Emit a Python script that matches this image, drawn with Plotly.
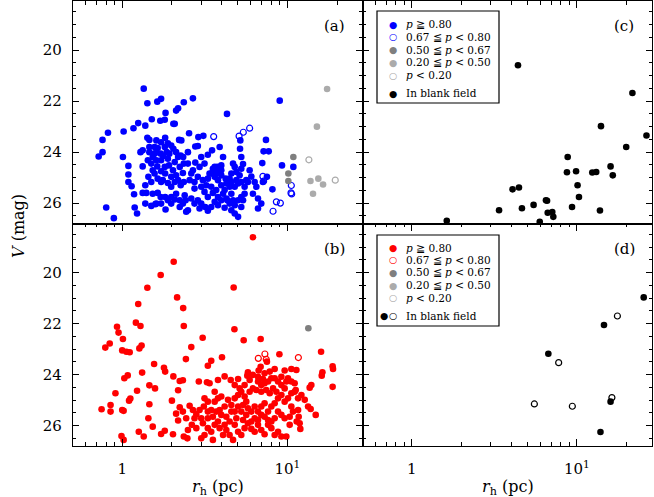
import plotly.graph_objects as go
from plotly.subplots import make_subplots

# ---------------- data ----------------
# panel (a): V band, probability classes
a_hi_r = [1.35,1.42,1.63,1.72,2.36,2.68,2.12,2.18,1.83,4.31,8.99,0.82,0.76,0.76,0.72,0.80,0.89,1.02,1.17,1.25,1.38,1.51,1.70,1.81,2.04,2.08,2.54,2.89,3.10,1.42,1.46,1.61,1.82,1.89,2.21,2.28,2.77,2.87,1.01,1.09,1.09,1.09,1.14,1.18,1.19,1.23,1.38,1.33,1.40,1.38,1.50,1.59,1.64,1.83,1.29,1.33,1.46,1.57,1.61,1.64,1.71,1.77,1.86,1.93,2.04,2.18,2.26,2.34,2.50,1.33,1.50,1.53,1.63,1.72,1.81,1.92,2.03,2.12,2.23,2.33,2.50,2.77,3.01,3.30,3.50,1.76,1.89,1.98,2.12,2.26,2.36,2.56,2.74,2.87,3.08,3.23,3.38,3.63,3.80,3.98,3.89,4.08,1.71,1.82,1.98,2.23,2.42,2.62,2.87,3.01,3.18,2.94,2.50,2.23,2.44,3.30,3.54,3.71,3.80,4.08,3.80,4.17,4.33,4.47,4.69,4.80,5.03,5.26,5.39,4.58,4.80,5.03,5.26,5.51,5.77,6.05,6.34,6.49,6.19,6.64,6.95,6.64,7.11,7.52,7.05,7.18,7.71,7.42,8.12,9.28,10.87,3.98,4.23,4.47,4.58,4.80,4.69,4.91,5.26,5.39,5.26,5.17,5.19,3.54,3.46,3.63,3.80,3.98,4.27,4.47,4.17,3.15,3.01,3.46,2.74,2.62,2.68,3.30,2.94,3.15,3.71,3.77,3.98,4.58,4.91,5.14,5.64,5.91,5.51,5.26,5.03,4.58,4.80,4.27,3.98,3.63,3.46,3.30,2.74,2.39,2.33,2.08,1.98,1.89,1.72,1.61,1.53,1.44,1.50,1.57,1.64,1.72,1.82,1.98,2.08,2.18,1.43,1.53,1.61,1.72,1.89,2.08,2.12,2.36,1.98,1.81,1.72,1.46,1.57]
a_hi_V = [21.51,22.08,22.02,21.91,22.04,21.89,22.37,22.28,22.46,22.50,21.98,23.24,23.52,24.00,24.17,26.17,26.59,23.19,23.06,22.86,22.96,22.71,22.77,22.73,22.89,22.89,23.26,23.41,23.36,23.44,23.52,23.54,23.44,23.65,23.52,23.54,23.78,23.76,24.19,24.54,24.88,25.17,25.34,25.65,26.17,26.41,25.30,25.60,25.60,26.02,26.11,26.04,25.60,26.25,24.00,23.93,24.00,23.80,24.00,23.84,24.06,24.15,24.00,24.06,23.87,24.19,24.13,24.19,24.00,24.56,24.45,24.71,24.56,24.75,24.58,24.52,24.71,24.91,24.58,24.82,24.45,24.41,24.19,24.10,23.93,25.10,25.21,25.36,25.63,25.30,25.17,25.10,25.43,24.97,25.10,25.30,24.84,24.58,24.71,24.52,23.80,24.19,25.76,25.76,25.76,25.89,25.89,25.82,25.89,26.02,26.15,26.21,26.28,26.15,26.34,25.76,25.60,25.49,25.76,25.63,26.08,26.18,25.89,26.02,25.89,26.08,26.54,26.15,25.89,25.63,25.36,25.23,25.17,25.36,25.17,24.96,25.17,25.36,25.63,25.82,26.02,26.21,25.17,24.97,24.43,23.97,23.97,23.52,25.46,24.52,24.58,24.91,25.04,25.04,24.84,24.58,24.45,24.78,24.65,24.47,24.19,23.87,23.54,24.65,24.84,24.97,25.10,25.30,25.23,25.36,25.49,25.56,25.36,25.36,25.17,24.84,24.71,25.04,24.58,24.45,24.84,24.58,24.71,25.17,25.10,24.91,25.10,24.71,25.63,25.76,25.89,26.28,26.41,25.82,25.89,25.95,26.15,26.30,26.02,25.69,26.02,25.86,26.02,25.89,26.02,26.02,25.63,24.97,25.17,24.84,25.04,25.17,24.84,24.97,25.17,25.10,24.32,24.19,24.32,24.32,24.26,24.39,24.00,24.45,23.74,23.80,23.61,23.80,24.06]
a_mid_r = [3.58,5.10,5.41,5.91,7.11,7.18,10.57,10.52,10.62,8.58,9.07,8.19]
a_mid_V = [23.39,23.37,23.22,23.06,24.95,25.14,25.31,25.60,25.64,25.95,26.00,26.32]
a_p50_r = [10.87,10.14,10.14]
a_p50_V = [24.19,24.84,25.13]
a_p20_r = [17.4,15.1,13.8,15.4,16.45,14.3]
a_p20_V = [21.52,23.0,25.13,25.04,25.27,25.63]
a_low_r = [13.5,19.5]
a_low_V = [24.30,25.10]

# panel (b)
b_hi_r = [6.19,2.05,1.71,1.42,4.73,2.15,1.25,2.34,1.21,1.29,
          2.36,0.93,0.95,1.01,4.78,5.44,6.89,0.84,0.79,1.31,
          1.27,2.62,3.07,1.00,1.06,1.11,8.95,16.0,4.02,3.46,
          3.30,2.43,1.56,1.79,1.82,2.04,2.23,2.33,1.32,1.08,
          1.03,1.46,1.58,1.23,0.91,2.18,2.91,3.26,4.17,4.54,
          5.03,5.72,5.77,6.70,6.89,7.52,8.38,9.63,10.57,11.34,
          16.3,16.15,18.8,18.9,18.8,13.65,13.97,1.12,1.10,0.85,
          0.75,0.85,1.00,1.02,1.46,2.00,2.23,2.56,1.44,1.53,
          1.72,1.81,1.26,1.35,2.03,0.99,1.02,2.12,2.18,2.36,
          2.48,2.50,2.64,2.81,2.81,3.01,3.12,3.30,3.46,3.63,
          3.80,3.98,4.17,4.37,4.58,4.80,5.03,5.26,5.51,5.64,
          5.91,6.19,6.49,6.64,6.95,7.28,7.64,8.00,8.38,8.78,
          9.20,9.63,10.09,10.57,11.07,11.24,11.61,12.16,12.74,13.35,
          13.84,14.85,11.61,11.71,11.87,11.98,11.39,10.33,9.86,9.20,
          8.78,8.38,8.00,7.64,7.28,6.95,6.64,6.34,6.05,5.77,
          5.51,5.26,5.03,4.80,4.69,4.47,4.27,4.08,3.89,3.63,
          3.46,3.30,3.15,3.01,3.54,3.30,3.54,3.80,3.98,4.27,
          4.58,4.91,5.26,5.39,5.64,6.05,6.34,6.64,6.95,7.28,
          7.64,8.00,8.38,8.78,9.20,9.63,10.09,10.57,10.82,10.33,
          9.63,9.20,8.78,8.38,8.00,7.64,7.28,6.95,6.64,6.34,
          6.05,5.77,5.39,5.03,4.80,4.47,4.17,3.89,3.71,3.30,
          3.08,2.94,2.74,4.80,5.14,5.51,5.91,6.19,6.64,6.95,
          7.45,7.82,8.19,8.58,9.20,9.86,10.57,11.07,7.82,7.28,
          7.11,3.38,3.80,3.63,2.68,2.44,3.15,2.33]
b_hi_V = [18.61,19.57,20.09,20.59,20.58,20.97,21.23,21.39,21.96,22.09,
          22.09,22.12,22.35,22.60,22.22,22.65,22.60,22.78,22.94,22.86,
          22.97,22.92,22.55,23.05,23.10,23.12,23.20,23.10,23.32,23.46,
          23.65,23.39,23.58,23.73,23.88,24.07,24.25,24.22,23.92,24.03,
          24.14,24.42,24.54,24.63,24.73,24.61,24.27,24.30,24.07,24.21,
          24.17,24.04,23.91,23.84,23.69,23.49,23.78,23.84,23.78,23.82,
          23.91,24.04,23.67,23.78,24.48,24.51,24.41,24.94,25.02,25.19,
          25.36,25.45,25.39,25.42,25.16,25.02,25.28,25.22,25.71,26.04,
          26.33,26.20,26.24,26.43,26.34,26.41,26.56,25.53,25.80,26.43,
          26.50,26.17,25.97,26.10,25.56,25.71,25.25,25.06,25.39,25.06,
          24.93,24.86,25.25,24.99,25.19,24.93,24.80,24.67,24.86,25.06,
          24.67,24.54,24.60,24.27,24.41,24.34,24.27,24.14,24.14,24.27,
          24.41,24.54,24.14,24.27,24.67,24.60,24.93,24.80,24.99,25.25,
          25.35,25.58,25.39,25.65,25.91,26.13,25.84,25.97,26.43,26.43,
          26.24,26.37,26.10,25.97,26.34,26.17,25.97,26.24,26.13,25.91,
          26.10,26.37,26.24,25.97,26.56,26.37,26.17,26.37,26.10,25.97,
          26.24,26.10,26.37,26.50,26.56,25.71,25.65,25.84,25.58,25.65,
          25.45,25.71,25.45,25.78,25.58,25.45,25.25,25.45,25.25,25.12,
          25.45,25.25,25.12,24.93,24.80,25.06,24.93,25.25,25.45,25.65,
          25.71,25.58,25.45,25.71,25.84,25.78,25.65,25.58,25.78,25.71,
          25.84,25.32,25.19,25.25,25.45,25.84,25.97,25.39,25.45,25.45,
          25.91,25.39,25.71,24.41,24.54,24.41,24.21,24.01,24.08,24.67,
          24.60,24.73,24.54,24.67,24.08,24.27,24.73,24.34,23.88,23.95,
          24.17,24.34,24.21,24.67,25.39,25.71,24.93,25.45]
b_mid_r = [6.67,7.31,7.45,11.66]
b_mid_V = [23.36,23.19,23.40,23.33]
b_p50_r = [13.4]
b_p50_V = [22.18]

# panel (c): in blank field (V)
c_r = [4.40,21.7,14.0,26.4,19.9,8.80,16.0,16.5,8.71,9.89,12.4,13.1,10.1,10.3,4.08,4.46,3.38,4.65,5.47,6.50,6.60,9.35,13.8,6.66,7.10,7.20,5.96,1.63]
c_V = [20.59,21.68,22.98,23.35,23.80,24.19,24.56,24.91,24.79,24.75,24.80,24.78,25.30,25.76,25.46,25.39,26.28,26.20,26.07,25.89,25.91,26.15,26.29,26.38,26.35,26.54,26.73,26.69]

# panel (d): in blank field, filled / open
d_fill_r = [25.4,14.6,6.72,16.0,13.9]
d_fill_V = [20.97,22.05,23.18,25.06,26.25]
d_open_r = [17.6,7.76,5.53,9.39,16.3]
d_open_V = [21.70,23.53,25.15,25.24,24.90]

x_tickvals = [1, 10]
x_ticktext = ["1", "10<sup>1</sup>"]
y_tickvals = [20, 22, 24, 26]
legend_labels = ["<i>p</i> ≧ 0.80", "0.67 ≦ <i>p</i> &lt; 0.80", "0.50 ≦ <i>p</i> &lt; 0.67",
                 "0.20 ≦ <i>p</i> &lt; 0.50", "<i>p</i> &lt; 0.20", "In blank field"]
panel_labels = ["(a)", "(c)", "(b)", "(d)"]

BLUE = "#0000FF"; RED = "#FF0000"; DGRAY = "#7f7f7f"; LGRAY = "#ababab"; BLACK = "#000000"
MS = 6.6

fig = make_subplots(rows=2, cols=2, horizontal_spacing=0, vertical_spacing=0)

def filled(x, y, color, row, col):
    fig.add_trace(go.Scatter(x=x, y=y, mode="markers",
                             marker=dict(size=MS, color=color, line=dict(width=0)),
                             hoverinfo="skip"), row=row, col=col)

def hollow(x, y, color, row, col):
    fig.add_trace(go.Scatter(x=x, y=y, mode="markers",
                             marker=dict(size=MS - 0.6, symbol="circle-open", color=color,
                                         line=dict(width=1.2, color=color)),
                             hoverinfo="skip"), row=row, col=col)

filled(a_hi_r, a_hi_V, BLUE, 1, 1)
hollow(a_mid_r, a_mid_V, BLUE, 1, 1)
filled(a_p50_r, a_p50_V, DGRAY, 1, 1)
filled(a_p20_r, a_p20_V, LGRAY, 1, 1)
hollow(a_low_r, a_low_V, LGRAY, 1, 1)

filled(b_hi_r, b_hi_V, RED, 2, 1)
hollow(b_mid_r, b_mid_V, RED, 2, 1)
filled(b_p50_r, b_p50_V, DGRAY, 2, 1)

filled(c_r, c_V, BLACK, 1, 2)

filled(d_fill_r, d_fill_V, BLACK, 2, 2)
hollow(d_open_r, d_open_V, BLACK, 2, 2)

minor_x = [0.6, 0.7, 0.8, 0.9, 2, 3, 4, 5, 6, 7, 8, 9, 20, 30]

for row in (1, 2):
    for col in (1, 2):
        top = row == 1
        fig.update_xaxes(
            type="log", range=[-0.298, 1.455], showgrid=False, zeroline=False,
            showline=True, linecolor="black", linewidth=1.3,
            mirror=True if top else "ticks", side="top" if top else "bottom",
            ticks="inside", ticklen=7, tickwidth=1.2, tickcolor="black",
            tickmode="array", tickvals=x_tickvals, ticktext=x_ticktext,
            showticklabels=not top, ticklabelstandoff=9,
            tickfont=dict(size=15, color="black"),
            minor=dict(ticks="inside", ticklen=3.5, tickwidth=1, tickcolor="black",
                       tickmode="array", tickvals=minor_x, showgrid=False),
            row=row, col=col)
        fig.update_yaxes(
            range=[26.8, 18.07], autorange=False, showgrid=False, zeroline=False,
            showline=True, linecolor="black", linewidth=1.3, mirror="ticks",
            ticks="inside", ticklen=6, tickwidth=1.2, tickcolor="black",
            tickmode="array", tickvals=y_tickvals,
            showticklabels=(col == 1), ticklabelstandoff=7,
            tickfont=dict(size=15, color="black"),
            minor=dict(ticks="inside", ticklen=3, tickwidth=1, tickcolor="black",
                       dtick=0.5, tick0=0, showgrid=False),
            row=row, col=col)

W, H = 654, 497
L, R, T, B = 73, 2, 1, 51
PW, PH = W - L - R, H - T - B

def px(xp):
    return (xp - L) / PW

def py(yp):
    return (H - B - yp) / PH

ann = []
shapes = []
FONT = "DejaVu Serif"

# panel labels
for lab, (xp, yp) in zip(panel_labels, [(334, 26), (624, 26), (334, 249), (624, 249)]):
    ann.append(dict(x=px(xp), y=py(yp), xref="paper", yref="paper", text=lab, showarrow=False,
                    font=dict(size=15, family=FONT, color="black"), xanchor="center", yanchor="middle"))

# legends
def legend(y_top, y_bot, rows_y, colors, open_flags, blank_two):
    shapes.append(dict(type="rect", xref="paper", yref="paper",
                       x0=px(377), x1=px(499), y0=py(y_bot), y1=py(y_top),
                       line=dict(color="black", width=1.2), fillcolor="white"))
    for i, (lab, yr) in enumerate(zip(legend_labels, rows_y)):
        sym = "○" if open_flags[i] else "●"
        if i == 5 and blank_two:
            ann.append(dict(x=px(384), y=py(yr), xref="paper", yref="paper", text="●",
                            showarrow=False, font=dict(size=9.5, family="DejaVu Sans", color=colors[i]),
                            xanchor="center", yanchor="middle"))
            sym = "○"
        ann.append(dict(x=px(392.5), y=py(yr), xref="paper", yref="paper", text=sym,
                        showarrow=False, font=dict(size=9.5, family="DejaVu Sans", color=colors[i]),
                        xanchor="center", yanchor="middle"))
        ann.append(dict(x=px(404), y=py(yr), xref="paper", yref="paper", text=lab,
                        showarrow=False, font=dict(size=10.5, family=FONT, color="black"),
                        xanchor="left", yanchor="middle"))

legend(11, 103, [24.3, 37, 49.7, 62.3, 75.3, 93],
       [BLUE, BLUE, DGRAY, LGRAY, LGRAY, BLACK],
       [False, True, False, False, True, False], False)
legend(235, 326, [247.7, 259.7, 272.3, 285.3, 297.7, 315.7],
       [RED, RED, DGRAY, LGRAY, LGRAY, BLACK],
       [False, True, False, False, True, False], True)

# axis titles
ann.append(dict(x=px(18), y=py(226), xref="paper", yref="paper", text="<i>V</i> (mag)",
                textangle=-90, showarrow=False, font=dict(size=16, family=FONT, color="black"),
                xanchor="center", yanchor="middle"))
for xc in (218, 508):
    ann.append(dict(x=px(xc), y=py(487), xref="paper", yref="paper",
                    text="<i>r</i><sub>h</sub> (pc)", showarrow=False,
                    font=dict(size=16, family=FONT, color="black"),
                    xanchor="center", yanchor="middle"))

fig.update_layout(width=W, height=H, margin=dict(l=L, r=R, t=T, b=B),
                  paper_bgcolor="white", plot_bgcolor="white", showlegend=False,
                  font=dict(family=FONT, color="black"),
                  annotations=ann, shapes=shapes)

fig.write_html("out.html", config={"displayModeBar": False},
               post_script="document.body.style.margin='0';document.body.style.overflow='hidden';")
